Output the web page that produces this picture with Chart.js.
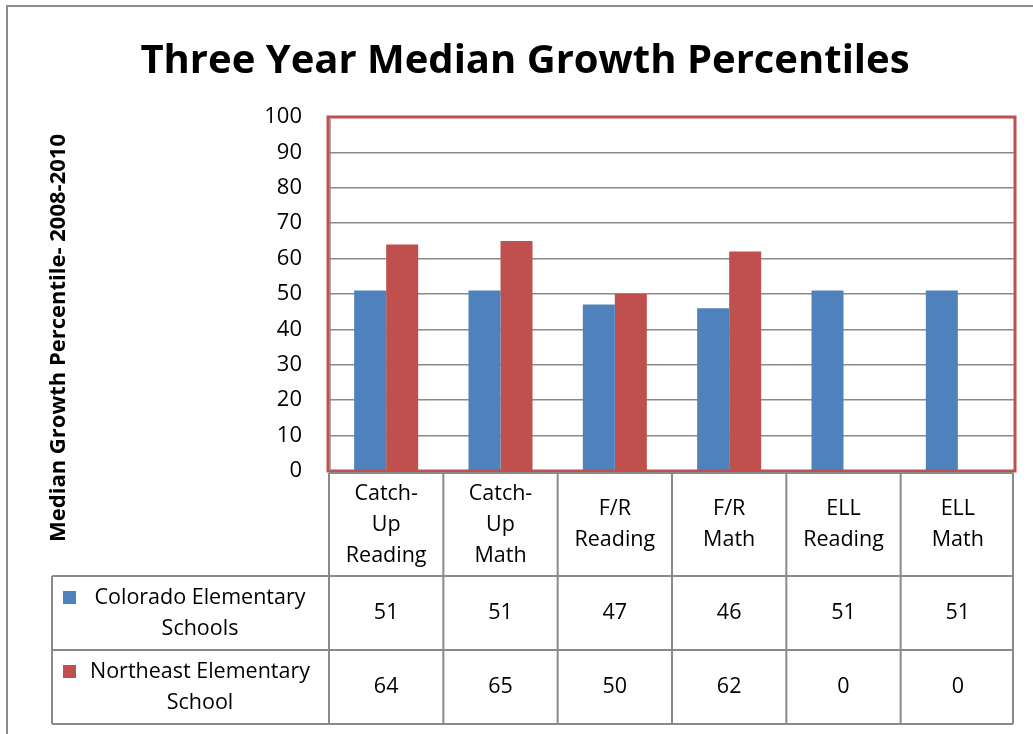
<!DOCTYPE html>
<html>
<head>
<meta charset="utf-8">
<script src="https://cdn.jsdelivr.net/npm/chart.js"></script>
<style>
  body { margin: 0; background: #fff; }
  canvas { display: block; }
</style>
</head>
<body>
<canvas id="growth" width="1033" height="734"></canvas>
<script>
const categories = [["Catch-", "Up", "Reading"], ["Catch-", "Up", "Math"], ["F/R", "Reading"], ["F/R", "Math"], ["ELL", "Reading"], ["ELL", "Math"]];
const colorado = [51, 51, 47, 46, 51, 51];
const northeast = [64, 65, 50, 62, 0, 0];
const seriesNames = [["Colorado Elementary", "Schools"], ["Northeast Elementary", "School"]];
const yTicks = [0, 10, 20, 30, 40, 50, 60, 70, 80, 90, 100];

const blue = "#4F81BD";
const red = "#C0504D";
const lineGray = "#8a8a8a";
const font = "'Open Sans', Lato, sans-serif";

// draws title, y title, plot border and the data table under the plot
const tablePlugin = {
    id: "dataTable",
    afterDraw(chart) {
        const ctx = chart.ctx;
        const area = chart.chartArea;
        const x = chart.scales.x;
        const colW = (area.right - area.left) / categories.length;
        ctx.save();

        // outer frame
        ctx.strokeStyle = "#8c8c8c";
        ctx.lineWidth = 2;
        ctx.strokeRect(7, 6, 1100, 800);

        // title
        ctx.fillStyle = "#000";
        ctx.font = "bold 40px " + font;
        ctx.textAlign = "center";
        ctx.textBaseline = "alphabetic";
        ctx.fillText("Three Year Median Growth Percentiles", 525, 73);

        // y axis title
        ctx.save();
        ctx.translate(59, 338);
        ctx.rotate(-Math.PI / 2);
        ctx.font = "bold 22px " + font;
        ctx.textBaseline = "middle";
        ctx.fillText("Median Growth Percentile- 2008-2010", 0, 0);
        ctx.restore();

        // plot area border
        ctx.strokeStyle = red;
        ctx.lineWidth = 3;
        ctx.strokeRect(area.left - 1, area.top, area.right - area.left + 1, area.bottom - area.top);
        ctx.strokeStyle = lineGray;
        ctx.lineWidth = 1.5;
        ctx.beginPath();
        ctx.moveTo(area.left + 1, area.top + 1.5);
        ctx.lineTo(area.left + 1, area.bottom);
        ctx.stroke();

        // table grid
        const rowTop = area.bottom + 2;
        const rows = [rowTop, rowTop + 103, rowTop + 177, rowTop + 251];
        const tableLeft = 52;
        ctx.strokeStyle = lineGray;
        ctx.lineWidth = 2;
        ctx.beginPath();
        ctx.moveTo(area.left, rows[0]);
        ctx.lineTo(area.right - 2, rows[0]);
        for (let r = 1; r < rows.length; r++) {
            ctx.moveTo(tableLeft, rows[r]);
            ctx.lineTo(area.right - 2, rows[r]);
        }
        for (let c = 0; c <= categories.length; c++) {
            const cx = area.left + c * colW - (c === categories.length ? 2 : 0);
            ctx.moveTo(cx, rows[0]);
            ctx.lineTo(cx, rows[3]);
        }
        ctx.moveTo(tableLeft, rows[1]);
        ctx.lineTo(tableLeft, rows[3]);
        ctx.stroke();

        // category labels
        ctx.fillStyle = "#000";
        ctx.font = "21.5px " + font;
        ctx.textAlign = "center";
        ctx.textBaseline = "middle";
        const lineH = 31;
        categories.forEach((lines, i) => {
            const cx = x.getPixelForValue(i);
            const cy = (rows[0] + rows[1]) / 2;
            const start = cy - (lines.length - 1) * lineH / 2;
            lines.forEach((t, k) => ctx.fillText(t, cx, start + k * lineH));
        });

        // series rows
        const seriesData = [colorado, northeast];
        const seriesColors = [blue, red];
        seriesData.forEach((vals, s) => {
            const cy = (rows[s + 1] + rows[s + 2]) / 2;
            const names = seriesNames[s];
            const y1 = cy - 15;
            ctx.fillStyle = seriesColors[s];
            ctx.fillRect(63, y1 - 7, 13, 13);
            ctx.fillStyle = "#000";
            names.forEach((t, k) => ctx.fillText(t, 200, y1 + k * 31));
            vals.forEach((v, i) => ctx.fillText(String(v), x.getPixelForValue(i), cy));
        });

        ctx.restore();
    }
};

new Chart("growth", {
    type: "bar",
    data: {
        labels: categories.map(c => c.join(" ")),
        datasets: [
            {
                label: seriesNames[0].join(" "),
                data: colorado,
                backgroundColor: blue,
                categoryPercentage: 0.56,
                barPercentage: 1
            },
            {
                label: seriesNames[1].join(" "),
                data: northeast,
                backgroundColor: red,
                categoryPercentage: 0.56,
                barPercentage: 1
            }
        ]
    },
    options: {
        responsive: false,
        animation: false,
        layout: {
            padding: { top: 117, right: 18, bottom: 263, left: 0 }
        },
        plugins: {
            legend: { display: false },
            title: { display: false },
            tooltip: { enabled: false }
        },
        scales: {
            x: { display: false },
            y: {
                min: 0,
                max: 100,
                afterFit: scale => { scale.width = 329; },
                afterBuildTicks: scale => { scale.ticks = yTicks.map(v => ({ value: v })); },
                grid: { color: lineGray, lineWidth: 1.5, drawTicks: false },
                border: { display: false },
                ticks: {
                    padding: 27,
                    color: "#000",
                    font: { family: font, size: 22 }
                }
            }
        }
    },
    plugins: [tablePlugin]
});
</script>
</body>
</html>
